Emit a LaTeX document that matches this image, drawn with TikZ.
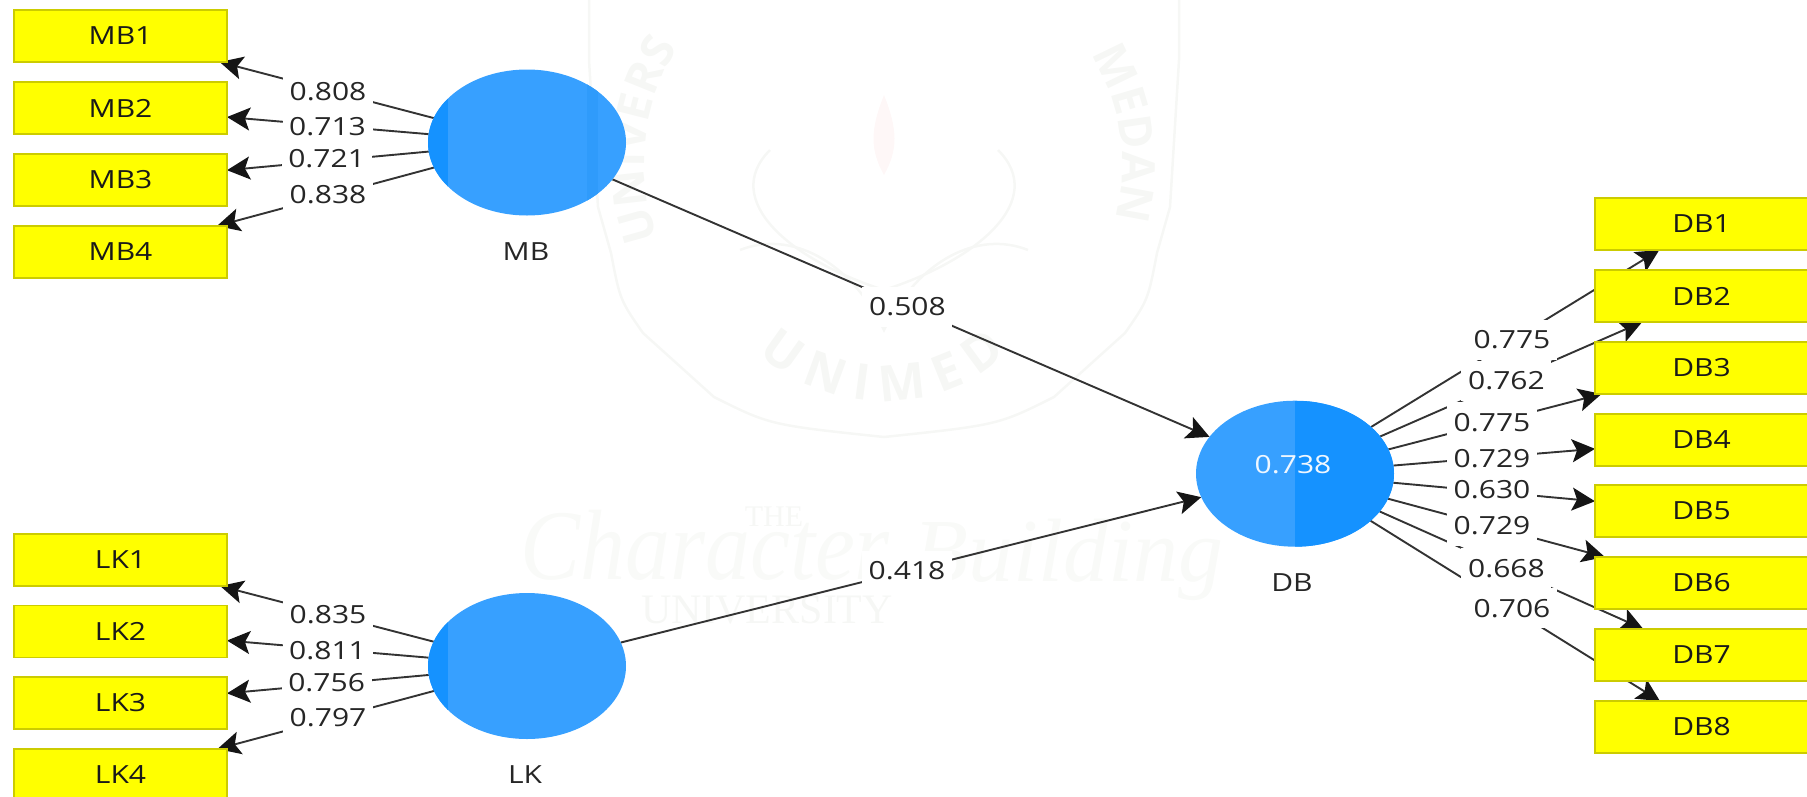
\documentclass[tikz,border=0pt]{standalone}
\usepackage{graphicx}
\usepackage{fontspec}
\setmainfont{Open Sans}
\newfontfamily\wmserif{Liberation Serif}
\usetikzlibrary{shapes.geometric,arrows.meta,decorations.text}
\pgfdeclarelayer{under}
\pgfsetlayers{under,main}
\definecolor{lvlight}{HTML}{37A0FF}
\definecolor{lvdark}{HTML}{1592FF}
\definecolor{lvstripe}{HTML}{2F9BFB}
\definecolor{mvfill}{HTML}{FFFF00}
\definecolor{mvedge}{HTML}{CCCC00}
\definecolor{conn}{HTML}{333333}
\definecolor{tipc}{HTML}{151515}
\definecolor{txt}{HTML}{262626}
\definecolor{wm}{HTML}{F6F7F5}
\definecolor{wmsoft}{HTML}{F9FAF8}
\newcommand{\stx}[1]{\scalebox{1.2}[1]{#1}}
\tikzset{
  x=1pt,y=-1pt,
  mvbox/.style={draw=mvedge,fill=mvfill,line width=1.4pt,minimum width=213pt,minimum height=52pt,inner sep=0pt,outer sep=0pt,text=black!90,font=\fontsize{25}{25}\selectfont},
  lvbase/.style={shape=ellipse,fill=lvlight,minimum width=198pt,minimum height=146pt,inner sep=0pt,outer sep=0pt},
  lvsliver/.style={lvbase,path picture={
     \fill[lvdark] (path picture bounding box.south west) rectangle ([xshift=20pt]path picture bounding box.north west);}},
  lvstriped/.style={lvbase,path picture={
     \fill[lvdark] (path picture bounding box.south west) rectangle ([xshift=20pt]path picture bounding box.north west);
     \fill[lvstripe] ([xshift=-39pt]path picture bounding box.south east) rectangle ([xshift=-28pt]path picture bounding box.north east);}},
  lvhalf/.style={lvbase,path picture={
     \fill[lvdark] (path picture bounding box.south) rectangle (path picture bounding box.north east);}},
  conntext/.style={fill=white,minimum width=90pt,minimum height=40pt,inner sep=0pt,text=txt,font=\fontsize{25}{25}\selectfont},
  lvtext/.style={inner sep=0pt,text=txt,font=\fontsize{25}{25}\selectfont},
  conn line/.style={draw=conn,line width=1.9pt,-{Stealth[length=23pt,width=23pt,inset=5pt,color=tipc]}},
  wmline/.style={draw=wm,line width=2.5pt},
}
\begin{document}
\begin{tikzpicture}
\useasboundingbox (0,0) rectangle (1807,796);

\begin{pgfonlayer}{under}
  % faint watermark
  \draw[wmline] (589,0) -- (589,60) -- (598,207) -- (611,253) .. controls (620,300) .. (643,333) -- (714,397) .. controls (770,425) .. (884,437)
     .. controls (998,425) .. (1054,397) -- (1125,333) .. controls (1148,300) .. (1157,253) -- (1170,207) -- (1179,60) -- (1179,0);
  \draw[wmline] (770,150) .. controls (720,200) and (790,260) .. (884,290) .. controls (978,260) and (1048,200) .. (998,150);
  \draw[wmline] (740,250) .. controls (790,230) and (850,260) .. (884,330) .. controls (918,260) and (978,230) .. (1028,250);
  \fill[wm!70!red!10] (884,95) .. controls (870,130) and (870,150) .. (884,175) .. controls (898,150) and (898,130) .. (884,95);
  \path[decorate,decoration={text along path,text align=center,
     text={|\fontsize{46}{46}\selectfont\bfseries\color{wm}|UNIVERS}}]
     (682,285) .. controls (630,210) and (625,90) .. (712,8);
  \path[decorate,decoration={text along path,text align=center,
     text={|\fontsize{46}{46}\selectfont\bfseries\color{wm}|MEDAN}}]
     (1060,15) .. controls (1130,85) and (1140,190) .. (1095,265);
  \path[decorate,decoration={text along path,text align=center,
     text={|\fontsize{50}{50}\selectfont\bfseries\color{wm}|U N I M E D}}]
     (735,330) .. controls (815,425) and (955,425) .. (1030,330);
  \node[inner sep=0pt,text=wm,font=\wmserif\fontsize{30}{30}\selectfont] (wmThe) at (774,517) {THE};
  \node[inner sep=0pt,text=wm,font=\wmserif\fontsize{42}{42}\selectfont] (wmUni) at (767,610) {UNIVERSITY};
  \node[inner sep=0pt,text=wmsoft,font=\wmserif\itshape\fontsize{100}{100}\selectfont] (wmCh) at (705,545) {\scalebox{.9}[1]{Character}};
  \node[inner sep=0pt,text=wmsoft,font=\wmserif\itshape\fontsize{90}{90}\selectfont] (wmBu) at (1068,560) {Building};
\end{pgfonlayer}

% latent variables
\node[lvstriped] (MB) at (527,142.5) {};
\node[lvsliver]  (LK) at (527,666) {};
\node[lvhalf]    (DB) at (1295,473.7) {};
\node[lvtext] (MBname) at (526,252) {\stx{MB}};
\node[lvtext] (LKname) at (525,775) {\stx{LK}};
\node[lvtext] (DBname) at (1292,583) {\stx{DB}};
\node[lvtext,text=white!92!lvlight] (DBr) at (1293,465) {\stx{0.738}};

% indicators
\foreach \n/\y in {MB1/36,MB2/108,MB3/180,MB4/252,LK1/560,LK2/631.5,LK3/703,LK4/775}
  \node[mvbox] (\n) at (120.5,\y) {\stx{\n}};
\foreach \n/\y in {DB1/224,DB2/296,DB3/368,DB4/440,DB5/511,DB6/583,DB7/655,DB8/727}
  \node[mvbox] (\n) at (1701.5,\y) {\stx{\n}};

% connectors
\begin{pgfonlayer}{under}
  \foreach \a/\b in {MB/MB1,MB/MB2,MB/MB3,MB/MB4,LK/LK1,LK/LK2,LK/LK3,LK/LK4,
     DB/DB1,DB/DB2,DB/DB3,DB/DB4,DB/DB5,DB/DB6,DB/DB7,DB/DB8,MB/DB,LK/DB}
    \draw[conn line] (\a) -- (\b);
\end{pgfonlayer}

% weights
\foreach \k/\x/\y/\v in {a1/328/91.7/0.808,a2/327.5/126.7/0.713,a3/326.6/158.7/0.721,a4/328/195/0.838,
   b1/328/615/0.835,b2/327.5/650.7/0.811,b3/326.6/682.3/0.756,b4/328/717.3/0.797,
   p1/907.4/306.7/0.508,p2/907/570.7/0.418,
   c1/1512/340/0.775,c2/1506.4/380.7/0.762,c3/1492/422.3/0.775,c4/1492/458.7/0.729,
   c5/1492/490/0.630,c6/1492/526/0.729,c7/1506.4/568.3/0.668,c8/1512/608.3/0.706}
  \node[conntext] (w\k) at (\x,\y) {\stx{\v}};
\end{tikzpicture}
\end{document}
